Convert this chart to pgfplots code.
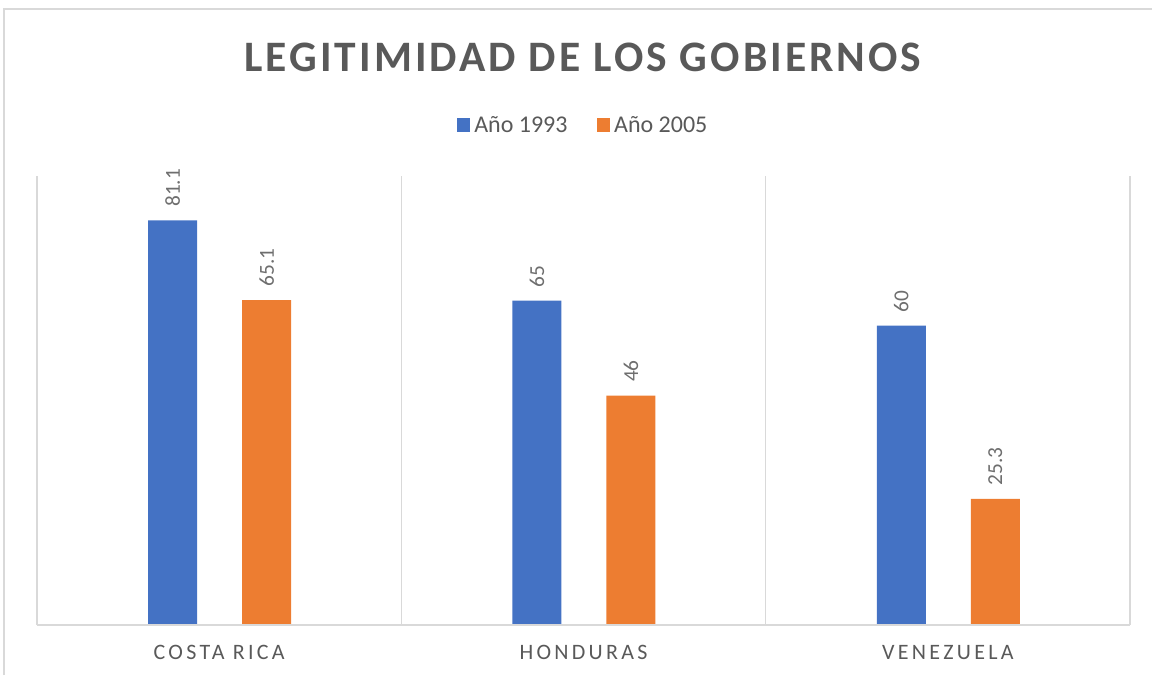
\documentclass[border=0pt]{standalone}
\usepackage{pgfplots}
\pgfplotsset{compat=1.18}
\usepackage{fontspec}
\setmainfont{Carlito}
\newfontfamily\titlefont[LetterSpace=7]{Carlito}
\newfontfamily\catfont[LetterSpace=15]{Carlito}
\definecolor{cblue}{RGB}{68,114,196}
\definecolor{corange}{RGB}{237,125,49}
\definecolor{txtgray}{RGB}{89,89,89}
\definecolor{lblgray}{RGB}{110,110,110}
\definecolor{gridgray}{RGB}{217,217,217}
\begin{document}
\begin{tikzpicture}
\path[use as bounding box] (0,0) rectangle (864pt,506.25pt);
\draw[gridgray,line width=0.8pt] (3pt,0) -- (3pt,499.5pt) -- (864pt,499.5pt);
\node[text=txtgray,font=\titlefont\fontsize{32.6pt}{36pt}\selectfont\bfseries] at (437.25pt,463pt) {LEGITIMIDAD DE LOS GOBIERNOS};
\begin{axis}[
  at={(27.75pt,37.5pt)}, anchor=south west,
  scale only axis, width=819.75pt, height=336.75pt,
  xmin=-0.5, xmax=2.5, ymin=0, ymax=90,
  axis line style={draw=none},
  xtick={0,1,2},
  xticklabels={COSTA RICA,HONDURAS,VENEZUELA},
  minor xtick={-0.5,0.5,1.5,2.5},
  xminorgrids=true,
  minor grid style={gridgray,line width=0.8pt},
  major tick length=0pt, minor tick length=0pt,
  ytick=\empty,
  xticklabel style={font=\catfont\fontsize{16.5pt}{18pt}\selectfont, text=txtgray, yshift=-12pt},
  ybar, bar width=36.75pt,
  /pgf/number format/assume math mode=true,
  nodes near coords,
  every node near coord/.append style={rotate=90, anchor=west, inner sep=10pt, font=\fontsize{16pt}{18pt}\selectfont, text=lblgray},
  legend columns=2,
  legend style={at={(0.5,1.1136)}, anchor=center, draw=none, fill=none,
    font=\fontsize{18pt}{20pt}\selectfont, text=txtgray,
    /tikz/every even column/.append style={column sep=20pt},
    /tikz/every odd column/.append style={column sep=1pt}},
  legend image code/.code={\fill[#1] (0pt,-5.5pt) rectangle (10pt,5.5pt);},
  clip=false,
]
\addplot[fill=cblue, draw=none, bar shift=-34.9pt] coordinates {(0,81.1) (1,65) (2,60)};
\addplot[fill=corange, draw=none, bar shift=35.6pt] coordinates {(0,65.1) (1,46) (2,25.3)};
\legend{Año 1993, Año 2005}
\draw[gridgray,line width=1.5pt] (rel axis cs:0,0) -- (rel axis cs:1,0);
\end{axis}
\end{tikzpicture}
\end{document}
